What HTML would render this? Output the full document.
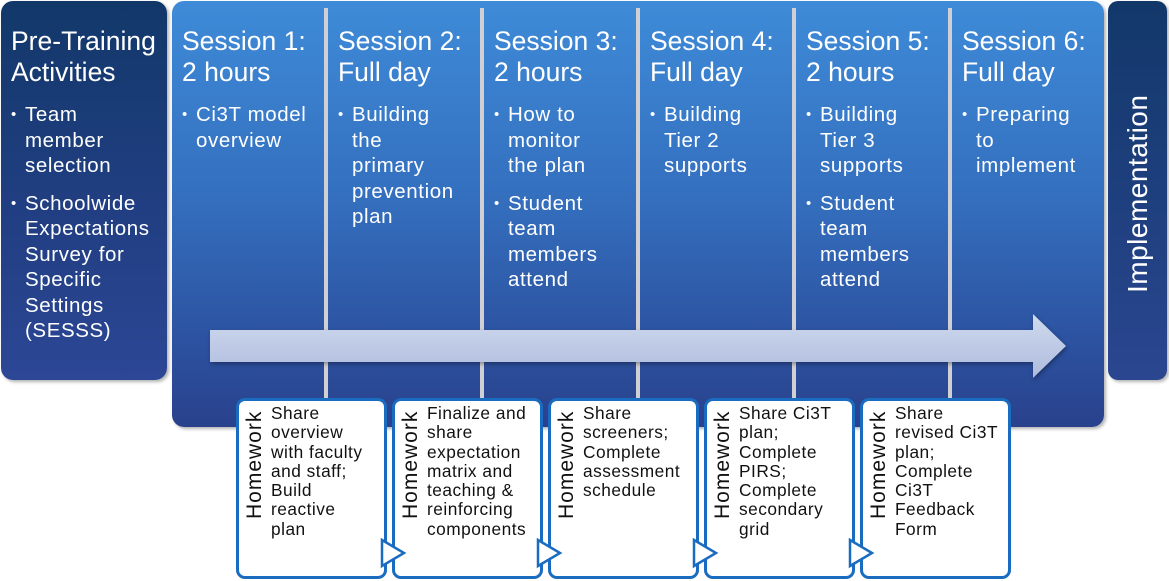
<!DOCTYPE html>
<html><head><meta charset="utf-8"><style>
*{margin:0;padding:0;box-sizing:border-box}
body{width:1169px;height:581px;background:#fff;position:relative;overflow:hidden;font-family:"Liberation Sans","DejaVu Sans",sans-serif;color:#fff}
.abs{position:absolute}
.base{left:172px;top:1px;width:932px;height:426px;border-radius:12px;background:linear-gradient(#3e8bd8,#3470bf 45%,#2c52a0 80%,#29418c);box-shadow:2px 2px 3px rgba(0,0,0,.3)}
.sep{top:8px;width:4px;height:390px;background:#cfcfd4}
.hd{font-size:26.5px;line-height:31px;padding:25px 0 0 10px;letter-spacing:0}
ul{list-style:none;font-size:20.5px;line-height:25.5px;margin-top:14px;letter-spacing:0.6px}
li{position:relative;padding-left:24px;margin-bottom:12px;white-space:nowrap}
li:before{content:"•";position:absolute;left:10px;font-size:15px}
.pre{left:1px;top:1px;width:166px;height:379px;border-radius:12px;background:linear-gradient(#12386a,#223f84 60%,#2c4795);box-shadow:2px 2px 3px rgba(0,0,0,.3)}
.impl{left:1108px;top:1px;width:59px;height:379px;border-radius:10px;background:linear-gradient(#12386a,#2a4690);box-shadow:2px 2px 3px rgba(0,0,0,.3)}
.hw{top:398px;width:151px;height:181px;border:3px solid #1a6cc0;border-radius:9px;background:#fff;color:#111}
.hwl{position:absolute;left:4px;top:118px;width:120px;height:24px;transform-origin:0 0;transform:rotate(-90deg);font-size:21px;line-height:24px;letter-spacing:1px}
.hwt{position:absolute;left:32px;top:3px;font-size:17.3px;line-height:19.3px;letter-spacing:0.5px;white-space:nowrap}
</style></head><body>
<div class="abs base"></div>
<div class="abs sep" style="left:324px"></div>
<div class="abs sep" style="left:480px"></div>
<div class="abs sep" style="left:636px"></div>
<div class="abs sep" style="left:792px"></div>
<div class="abs sep" style="left:948px"></div>

<div class="abs pre"><div class="hd">Pre-Training<br>Activities</div>
<ul><li>Team<br>member<br>selection</li><li>Schoolwide<br>Expectations<br>Survey for<br>Specific<br>Settings<br>(SESSS)</li></ul></div>

<div class="abs" style="left:172px;top:1px;width:152px"><div class="hd">Session 1:<br>2 hours</div><ul><li>Ci3T model<br>overview</li></ul></div>
<div class="abs" style="left:328px;top:1px;width:152px"><div class="hd">Session 2:<br>Full day</div><ul><li>Building<br>the<br>primary<br>prevention<br>plan</li></ul></div>
<div class="abs" style="left:484px;top:1px;width:152px"><div class="hd">Session 3:<br>2 hours</div><ul><li>How to<br>monitor<br>the plan</li><li>Student<br>team<br>members<br>attend</li></ul></div>
<div class="abs" style="left:640px;top:1px;width:152px"><div class="hd">Session 4:<br>Full day</div><ul><li>Building<br>Tier 2<br>supports</li></ul></div>
<div class="abs" style="left:796px;top:1px;width:152px"><div class="hd">Session 5:<br>2 hours</div><ul><li>Building<br>Tier 3<br>supports</li><li>Student<br>team<br>members<br>attend</li></ul></div>
<div class="abs" style="left:952px;top:1px;width:152px"><div class="hd">Session 6:<br>Full day</div><ul><li>Preparing<br>to<br>implement</li></ul></div>

<div class="abs impl"><div style="position:absolute;left:15px;top:292px;width:220px;transform-origin:0 0;transform:rotate(-90deg);font-size:28px;line-height:30px;letter-spacing:0.5px">Implementation</div></div>

<svg class="abs" style="left:0;top:0" width="1169" height="581">
<defs><linearGradient id="ag" x1="0" y1="0" x2="0" y2="1"><stop offset="0" stop-color="#cfdaee"/><stop offset="1" stop-color="#aebbdd"/></linearGradient></defs>
<polygon points="210,330 1033,330 1033,314 1066,346 1033,378 1033,362 210,362" fill="url(#ag)" style="filter:drop-shadow(1px 2px 2px rgba(0,0,0,.35))"/>
</svg>

<div class="abs hw" style="left:236px"><div class="hwl">Homework</div><div class="hwt">Share<br>overview<br>with faculty<br>and staff;<br>Build<br>reactive<br>plan</div></div>
<div class="abs hw" style="left:392px"><div class="hwl">Homework</div><div class="hwt">Finalize and<br>share<br>expectation<br>matrix and<br>teaching &amp;<br>reinforcing<br>components</div></div>
<div class="abs hw" style="left:548px"><div class="hwl">Homework</div><div class="hwt">Share<br>screeners;<br>Complete<br>assessment<br>schedule</div></div>
<div class="abs hw" style="left:704px"><div class="hwl">Homework</div><div class="hwt">Share Ci3T<br>plan;<br>Complete<br>PIRS;<br>Complete<br>secondary<br>grid</div></div>
<div class="abs hw" style="left:860px"><div class="hwl">Homework</div><div class="hwt">Share<br>revised Ci3T<br>plan;<br>Complete<br>Ci3T<br>Feedback<br>Form</div></div>

<svg class="abs" style="left:0;top:0" width="1169" height="581">
<g fill="#fff" stroke="#1a6cc0" stroke-width="2.5">
<polygon points="382,540 404,553 382,566"/>
<polygon points="538,540 560,553 538,566"/>
<polygon points="694,540 716,553 694,566"/>
<polygon points="850,540 872,553 850,566"/>
</g>
</svg>
</body></html>
